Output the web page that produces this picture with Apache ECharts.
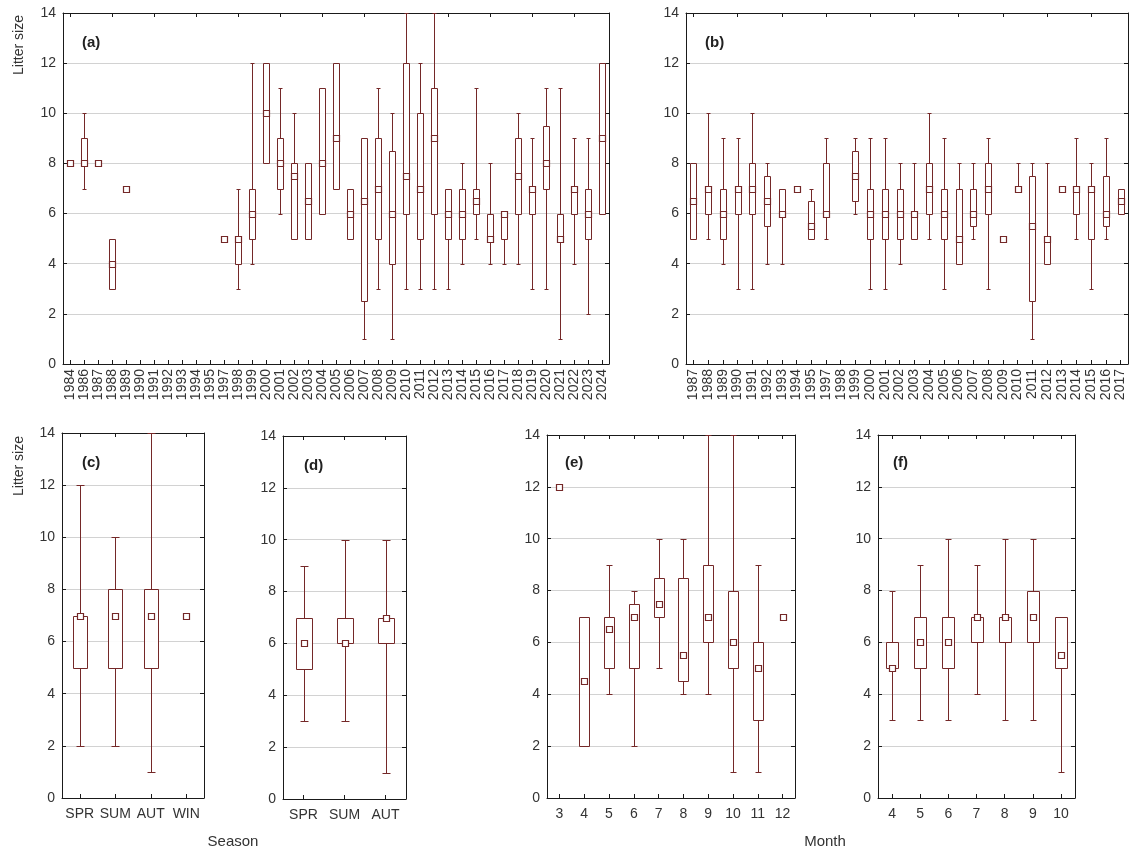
<!DOCTYPE html>
<html>
<head>
<meta charset="utf-8">
<script src="https://cdn.jsdelivr.net/npm/echarts@6/dist/echarts.min.js"></script>
<style>
html,body{margin:0;padding:0;background:#fff;}
#chart{width:1129px;height:852px;}
</style>
</head>
<body>
<div id="chart"></div>
<script>
// ---------- DATA ----------
// stats rows: [min, q1, median, q3, max]; [m] = median only; null = no data
const catsA = ['1984','1986','1987','1988','1989','1990','1991','1992','1993','1994','1995','1997','1998','1999',
  '2000','2001','2002','2003','2004','2005','2006','2007','2008','2009','2010','2011','2012','2013','2014','2015',
  '2016','2017','2018','2019','2020','2021','2022','2023','2024'];
const statsA = [
  [8], [7,8,8,9,10], [8], [3,3,4,5,5], [7], null, null, null, null, null, null,
  [5,5,5,5,5], [3,4,5,5,7], [4,5,6,7,12],
  [8,8,10,12,12], [6,7,8,9,11], [5,5,7.5,8,10], [5,5,6.5,8,8], [6,6,8,11,11],
  [7,7,9,12,12], [5,5,6,7,7], [1,2.5,6.5,9,9], [3,5,7,9,11], [1,4,6,8.5,10],
  [3,6,7.5,12,14], [3,5,7,10,12], [3,6,9,11,14], [3,5,6,7,7], [4,5,6,7,8],
  [5,6,6.5,7,11], [4,5,5,6,8], [4,5,6,6,6], [4,6,7.5,9,10], [3,6,7,7,9],
  [3,7,8,9.5,11], [1,5,5,6,11], [4,6,7,7,9], [2,5,6,7,9], [6,6,9,12,12]
];

const catsB = ['1987','1988','1989','1990','1991','1992','1993','1994','1995','1997','1998','1999',
  '2000','2001','2002','2003','2004','2005','2006','2007','2008','2009','2010','2011','2012','2013',
  '2014','2015','2016','2017'];
const statsB = [
  [5,5,6.5,8,8], [5,6,7,7,10], [4,5,6,7,9], [3,6,7,7,9], [3,6,7,8,10], [4,5.5,6.5,7.5,8],
  [4,6,6,7,7], [7,7,7,7,7], [5,5,5.5,6.5,7], [5,6,6,8,9], null, [6,6.5,7.5,8.5,9],
  [3,5,6,7,9], [3,5,6,7,9], [4,5,6,7,8], [5,5,6,6,8], [5,6,7,8,10], [3,5,6,7,9],
  [4,4,5,7,8], [5,5.5,6,7,8], [3,6,7,8,9], [5], [7,7,7,7,8], [1,2.5,5.5,7.5,8],
  [4,4,5,5,8], [7], [5,6,7,7,9], [3,5,7,7,8], [5,5.5,6,7.5,9], [6,6,6.5,7,7]
];

const catsC = ['SPR','SUM','AUT','WIN'];
const statsC = [[2,5,7,7,12], [2,5,7,8,10], [1,5,7,8,14], [7]];

const catsD = ['SPR','SUM','AUT'];
const statsD = [[3,5,6,7,9], [3,6,6,7,10], [1,6,7,7,10]];

const catsE = ['3','4','5','6','7','8','9','10','11','12'];
const statsE = [[12], [2,2,4.5,7,7], [4,5,6.5,7,9], [2,5,7,7.5,8], [5,7,7.5,8.5,10],
  [4,4.5,5.5,8.5,10], [4,6,7,9,14], [1,5,6,8,14], [1,3,5,6,9], [7]];

const catsF = ['4','5','6','7','8','9','10'];
const statsF = [[3,5,5,6,8], [3,5,6,7,9], [3,5,6,7,10], [4,6,7,7,9], [3,6,7,7,10], [3,6,7,8,10], [1,5,5.5,7,7]];

const yTicks = {min: 0, max: 14, step: 2};
const panelTags = ['(a)','(b)','(c)','(d)','(e)','(f)'];
const yTitle = 'Litter size';
const seasonTitle = 'Season';
const monthTitle = 'Month';

// ---------- LAYOUT / STYLE ----------
const COL = '#742828';
const FONT = 'Liberation Sans, Arial, sans-serif';
const panels = [
  {cats: catsA, stats: statsA, grid: {left: 63, top: 13, width: 546, height: 351}, rotate: 90, lblMargin: 5, lblSize: 14, boxW: 6, capW: 4},
  {cats: catsB, stats: statsB, grid: {left: 686, top: 13, width: 442, height: 351}, rotate: 90, lblMargin: 5, lblSize: 14, boxW: 6, capW: 4},
  {cats: catsC, stats: statsC, grid: {left: 62, top: 433, width: 142, height: 365}, rotate: 0, lblMargin: 9, lblSize: 14, boxW: 14, capW: 8},
  {cats: catsD, stats: statsD, grid: {left: 283, top: 436, width: 123, height: 363}, rotate: 0, lblMargin: 9, lblSize: 14, boxW: 16, capW: 8},
  {cats: catsE, stats: statsE, grid: {left: 547, top: 435, width: 248, height: 363}, rotate: 0, lblMargin: 9, lblSize: 14, boxW: 10, capW: 6},
  {cats: catsF, stats: statsF, grid: {left: 878, top: 435, width: 197, height: 363}, rotate: 0, lblMargin: 9, lblSize: 14, boxW: 12, capW: 6}
];
const tagPos = [[82, 43], [705, 43], [82, 463], [304, 466], [565, 463], [893, 463]];

const grids = [], xAxes = [], yAxes = [], series = [];

function makeRender(boxW, capW) {
  return function (params, api) {
    const i = api.value(0);
    const vMin = api.value(1), q1 = api.value(2), med = api.value(3), q3 = api.value(4), vMax = api.value(5);
    const hasBox = api.value(6);
    const cx = Math.round(api.coord([i, med])[0]) + 0.5;
    const Y = v => Math.round(api.coord([i, v])[1]) + 0.5;
    const line = {stroke: COL, lineWidth: 1};
    const kids = [];
    if (hasBox) {
      if (vMax > q3) {
        kids.push({type: 'line', shape: {x1: cx, y1: Y(vMax), x2: cx, y2: Y(q3)}, style: line});
        kids.push({type: 'line', shape: {x1: cx - capW / 2, y1: Y(vMax), x2: cx + capW / 2, y2: Y(vMax)}, style: line});
      }
      if (vMin < q1) {
        kids.push({type: 'line', shape: {x1: cx, y1: Y(q1), x2: cx, y2: Y(vMin)}, style: line});
        kids.push({type: 'line', shape: {x1: cx - capW / 2, y1: Y(vMin), x2: cx + capW / 2, y2: Y(vMin)}, style: line});
      }
      const hw = Math.floor(boxW / 2);
      kids.push({type: 'rect', shape: {x: cx - hw, y: Y(q3), width: hw * 2, height: Y(q1) - Y(q3)},
        style: {stroke: COL, lineWidth: 1, fill: 'rgba(255,255,255,0.9)'}});
    }
    kids.push({type: 'rect', shape: {x: cx - 3, y: Y(med) - 3, width: 6, height: 6},
      style: {stroke: COL, lineWidth: 1.2, fill: '#fff'}});
    return {type: 'group', children: kids};
  };
}

panels.forEach((p, gi) => {
  grids.push(Object.assign({outerBoundsMode: 'none', containLabel: false}, p.grid));
  const axLine = {show: true, onZero: false, lineStyle: {color: '#1a1a1a', width: 1}};
  const axTick = {show: true, inside: true, length: 4, alignWithLabel: true, lineStyle: {color: '#1a1a1a'}};
  xAxes.push({gridIndex: gi, type: 'category', data: p.cats, position: 'bottom', boundaryGap: true,
    axisLine: axLine, axisTick: axTick,
    axisLabel: {show: true, interval: 0, rotate: p.rotate, margin: p.lblMargin, fontSize: p.lblSize, color: '#333', fontFamily: FONT},
    splitLine: {show: false}});
  xAxes.push({gridIndex: gi, type: 'category', data: p.cats, position: 'top', boundaryGap: true,
    axisLine: axLine, axisTick: axTick, axisLabel: {show: false}, splitLine: {show: false}});
  const yTick = {show: true, inside: true, length: 4, lineStyle: {color: '#1a1a1a'}};
  yAxes.push({gridIndex: gi, type: 'value', position: 'left', min: yTicks.min, max: yTicks.max, interval: yTicks.step,
    axisLine: {show: true, lineStyle: {color: '#1a1a1a', width: 1}}, axisTick: yTick,
    axisLabel: {show: true, margin: 7, fontSize: 14, color: '#333', fontFamily: FONT},
    splitLine: {show: true, lineStyle: {color: '#d2d2d2', width: 1}}});
  yAxes.push({gridIndex: gi, type: 'value', position: 'right', min: yTicks.min, max: yTicks.max, interval: yTicks.step,
    axisLine: {show: true, lineStyle: {color: '#1a1a1a', width: 1}}, axisTick: yTick,
    axisLabel: {show: false}, splitLine: {show: false}});

  const data = [];
  p.stats.forEach((s, i) => {
    if (!s) return;
    if (s.length === 1) data.push([i, s[0], s[0], s[0], s[0], s[0], 0]);
    else data.push([i, s[0], s[1], s[2], s[3], s[4], 1]);
  });
  series.push({type: 'custom', xAxisIndex: gi * 2, yAxisIndex: gi * 2, clip: false,
    renderItem: makeRender(p.boxW, p.capW), encode: {x: 0, y: [1, 2, 3, 4, 5]}, data: data,
    animation: false, silent: true});
});

const graphics = [];
panelTags.forEach((t, k) => {
  graphics.push({type: 'text', x: tagPos[k][0], y: tagPos[k][1],
    style: {text: t, font: 'bold 15px ' + FONT, fill: '#222', align: 'left', verticalAlign: 'middle'}});
});
[[19, 45], [19, 466]].forEach(pos => {
  graphics.push({type: 'text', x: pos[0], y: pos[1], rotation: Math.PI / 2,
    style: {text: yTitle, font: '14px ' + FONT, fill: '#333', align: 'center', verticalAlign: 'middle'}});
});
graphics.push({type: 'text', x: 233, y: 842, style: {text: seasonTitle, font: '15px ' + FONT, fill: '#333', align: 'center', verticalAlign: 'middle'}});
graphics.push({type: 'text', x: 825, y: 842, style: {text: monthTitle, font: '15px ' + FONT, fill: '#333', align: 'center', verticalAlign: 'middle'}});

const chart = echarts.init(document.getElementById('chart'), null, {renderer: 'canvas'});
chart.setOption({
  backgroundColor: '#fff',
  animation: false,
  grid: grids,
  xAxis: xAxes,
  yAxis: yAxes,
  series: series,
  graphic: graphics
});
</script>
</body>
</html>
